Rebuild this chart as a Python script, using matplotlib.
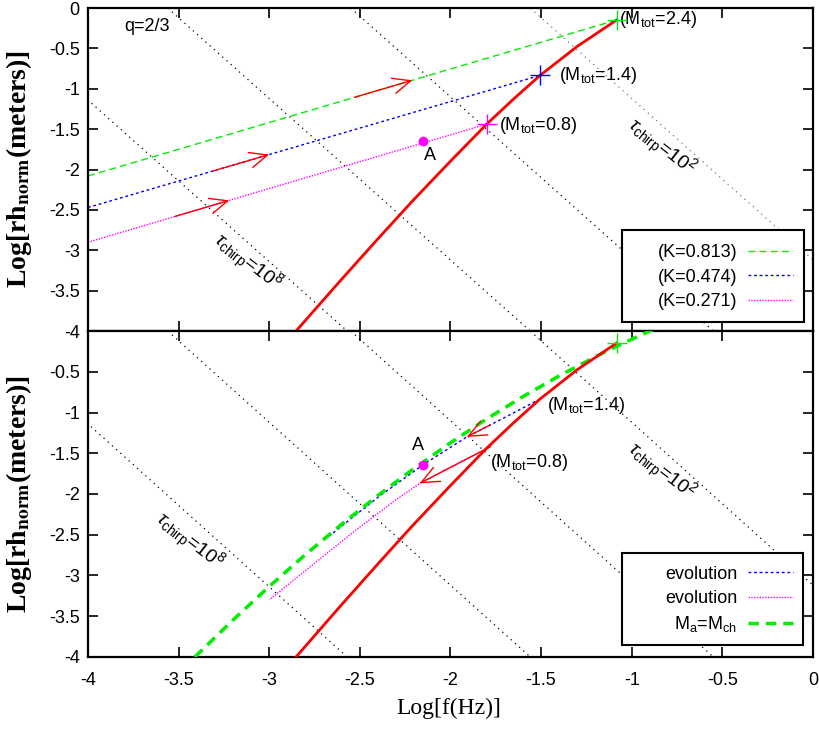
import numpy as np
import matplotlib
matplotlib.use('Agg')
import matplotlib.pyplot as plt
from matplotlib.patches import Rectangle

plt.rcParams['font.family'] = ['Liberation Sans Narrow', 'Liberation Sans', 'DejaVu Sans']
plt.rcParams['mathtext.fontset'] = 'custom'
plt.rcParams['mathtext.rm'] = 'Liberation Sans'
plt.rcParams['mathtext.it'] = 'Liberation Sans:italic'
plt.rcParams['mathtext.bf'] = 'Liberation Sans:bold'

# chirp-time lines (slope -2): x where they cross y=0 and y=-4
chirp_x_at_0 = [-4.57, -3.56, -2.55, -1.56]
chirp_x_at_m4 = [-2.57, -1.56, -0.55, 0.44]
chirp_y_ends = [0.0, -4.0]

# limit curve (red)
red_x = [-2.852, -2.6, -2.39, -2.205, -2.0, -1.8, -1.65, -1.506, -1.3, -1.083]
red_y = [-4.0, -3.357, -2.832, -2.378, -1.896, -1.437, -1.122, -0.834, -0.473, -0.147]

# top panel: constant-K lines
k_labels = ['(K=0.813)', '(K=0.474)', '(K=0.271)']
k_x = [[-4.0, -1.083], [-4.0, -1.506], [-4.0, -1.8]]
k_y = [[-2.08, -0.147], [-2.47, -0.834], [-2.9, -1.437]]
k_arrow_x = [[-2.53, -2.21], [-3.31, -3.0], [-3.52, -3.22]]

# M_tot end points
mtot_x = [-1.083, -1.506, -1.8]
mtot_y = [-0.147, -0.834, -1.437]

point_a = (-2.152, -1.65)

# bottom panel: evolution tracks and M_a = M_ch curve
evo_blue_x = [-1.506, -1.7, -1.91, -2.15, -2.4, -2.7]
evo_blue_y = [-0.834, -1.06, -1.30, -1.64, -2.04, -2.57]
evo_mag_x = [-1.78, -2.0, -2.17, -2.3, -2.52, -2.75, -3.0]
evo_mag_y = [-1.42, -1.67, -1.87, -2.07, -2.44, -2.85, -3.30]
mach_x = [-3.41, -3.2, -3.0, -2.8, -2.6, -2.4, -2.2, -2.0, -1.8, -1.6, -1.4,
          -1.2, -1.09, -0.94, -0.85]
mach_y = [-4.0, -3.547, -3.135, -2.743, -2.371, -2.018, -1.685, -1.372, -1.078,
          -0.804, -0.55, -0.315, -0.194, -0.039, 0.049]
evo_arrow_x = [[-1.78, -1.91], [-1.78, -2.17]]

ticks_x = np.arange(-4, 0.01, 0.5)
ticks_y = np.arange(-4, 0.01, 0.5)

colors = ['#00ee00', '#0000ff', '#ff00ff']
styles = [(0, (5, 3)), (0, (2, 2)), (0, (1, 1))]

fig = plt.figure(figsize=(8.19, 7.34), dpi=100)
ax1 = fig.add_axes([0.1074, 0.549, 0.8853, 0.440])
ax2 = fig.add_axes([0.1074, 0.105, 0.8853, 0.444])


def setup(ax):
    ax.set_xlim(-4, 0)
    ax.set_ylim(-4, 0)
    ax.set_xticks(ticks_x)
    ax.set_yticks(ticks_y)
    ax.set_xticklabels(['%g' % t for t in ticks_x])
    ax.set_yticklabels(['%g' % t for t in ticks_y])
    ax.tick_params(direction='in', length=7, width=1.2, top=True, right=True,
                   labelsize=13)
    ax.tick_params(axis='x', pad=11)
    ax.tick_params(axis='y', pad=6)
    for s in ax.spines.values():
        s.set_linewidth(1.6)


def chirp_lines(ax, gray_last):
    for i in range(len(chirp_x_at_0)):
        c = '#777777' if (gray_last and i == len(chirp_x_at_0) - 1) else 'black'
        ax.plot([chirp_x_at_0[i], chirp_x_at_m4[i]], chirp_y_ends, color=c,
                lw=0.9, ls=(0, (1, 3.5)), zorder=1)


def arrow_on(ax, xs, ys, xa):
    order = np.argsort(xs)
    sx = np.array(xs)[order]
    sy = np.array(ys)[order]
    x0, x1 = xa
    ax.annotate('', xy=(x1, np.interp(x1, sx, sy)), xytext=(x0, np.interp(x0, sx, sy)),
                arrowprops=dict(arrowstyle='->,head_length=0.8,head_width=0.35',
                                color='red', lw=1.0, shrinkA=0, shrinkB=0,
                                mutation_scale=16), zorder=5)


def key_box(ax, handles, box, ycen):
    ax.add_patch(Rectangle((box[0], box[1]), box[2] - box[0], box[3] - box[1],
                           transform=ax.transAxes, facecolor='white',
                           edgecolor='black', lw=1.5, zorder=6))
    leg = ax.legend(handles=handles, loc='center right',
                    bbox_to_anchor=(0.9724, ycen), markerfirst=False,
                    fontsize=13, frameon=False, handlelength=2.5,
                    handletextpad=0.6, labelspacing=0.4, borderpad=0,
                    borderaxespad=0)
    leg.set_zorder(7)


# ---- top panel
setup(ax1)
ax1.tick_params(labelbottom=False)
chirp_lines(ax1, True)
handles = []
for i in range(3):
    ln, = ax1.plot(k_x[i], k_y[i], color=colors[i], ls=styles[i], lw=1.0,
                   label=k_labels[i], zorder=2)
    handles.append(ln)
    arrow_on(ax1, k_x[i], k_y[i], k_arrow_x[i])
ax1.plot(red_x, red_y, color='red', lw=2.0, zorder=3)
for i in range(3):
    ax1.plot(mtot_x[i], mtot_y[i], marker='+', ms=15, mew=1.0,
             color=colors[i], zorder=4)
ax1.plot(*point_a, marker='o', ms=6, color='#ff00ff', zorder=4)
ax1.text(point_a[0] + 0.04, point_a[1] - 0.17, 'A', fontsize=13,
         ha='center', va='center')
ax1.text(mtot_x[0] + 0.01, mtot_y[0], r'(M$_{\rm tot}$=2.4)', fontsize=13,
         ha='left', va='center')
ax1.text(-1.40, -0.83, r'(M$_{\rm tot}$=1.4)', fontsize=13, ha='left', va='center')
ax1.text(-1.73, -1.46, r'(M$_{\rm tot}$=0.8)', fontsize=13, ha='left', va='center')
ax1.text(-3.8, -0.23, 'q=2/3', fontsize=13, ha='left', va='center')
ax1.text(-3.12, -3.15, r'$\tau_{\rm chirp}$=$10^{8}$', fontsize=14,
         rotation=-38, ha='center', va='center')
ax1.text(-0.84, -1.73, r'$\tau_{\rm chirp}$=$10^{2}$', fontsize=14,
         rotation=-38, ha='center', va='center')
key_box(ax1, handles, (0.7366, 0.0279, 0.9876, 0.3127), 0.167)

# ---- bottom panel
setup(ax2)
ax2.set_yticklabels(['%g' % t for t in ticks_y[:-1]] + [''])
chirp_lines(ax2, False)
b1, = ax2.plot(evo_blue_x, evo_blue_y, color='#0000ff', ls=(0, (2, 2)), lw=1.0,
               label='evolution', zorder=2)
b2, = ax2.plot(evo_mag_x, evo_mag_y, color='#ff00ff', ls=(0, (1, 1)), lw=1.0,
               label='evolution', zorder=2)
b3, = ax2.plot(mach_x, mach_y, color='#00ee00', ls=(0, (3, 2)), lw=2.5,
               label=r'M$_{\rm a}$=M$_{\rm ch}$', zorder=3)
arrow_on(ax2, evo_blue_x, evo_blue_y, evo_arrow_x[0])
arrow_on(ax2, evo_mag_x, evo_mag_y, evo_arrow_x[1])
ax2.plot(red_x, red_y, color='red', lw=2.0, zorder=3)
ax2.plot(mtot_x[0], mtot_y[0], marker='+', ms=15, mew=1.0, color='#00ee00', zorder=4)
ax2.plot(*point_a, marker='o', ms=6, color='#ff00ff', zorder=4)
ax2.text(point_a[0] - 0.03, point_a[1] + 0.24, 'A', fontsize=13,
         ha='center', va='center')
ax2.text(-1.47, -0.91, r'(M$_{\rm tot}$=1.4)', fontsize=13, ha='left', va='center')
ax2.text(-1.78, -1.61, r'(M$_{\rm tot}$=0.8)', fontsize=13, ha='left', va='center')
ax2.text(-3.44, -2.58, r'$\tau_{\rm chirp}$=$10^{8}$', fontsize=14,
         rotation=-38, ha='center', va='center')
ax2.text(-0.84, -1.72, r'$\tau_{\rm chirp}$=$10^{2}$', fontsize=14,
         rotation=-38, ha='center', va='center')
key_box(ax2, [b1, b2, b3], (0.7366, 0.0368, 0.9862, 0.319), 0.175)

ylab = r'Log[rh$_{\mathbf{norm}}$(meters)]'
for yc in [169, 494]:
    fig.text(19 / 819, 1 - yc / 734, ylab, rotation=90, ha='center', va='center',
             family='Liberation Serif', fontsize=20, fontweight='bold',
             math_fontfamily='stix')
fig.text(449 / 819, 1 - 708 / 734, 'Log[f(Hz)]', ha='center', va='center',
         family='Liberation Serif', fontsize=17)

fig.savefig('out.png', dpi=100)
